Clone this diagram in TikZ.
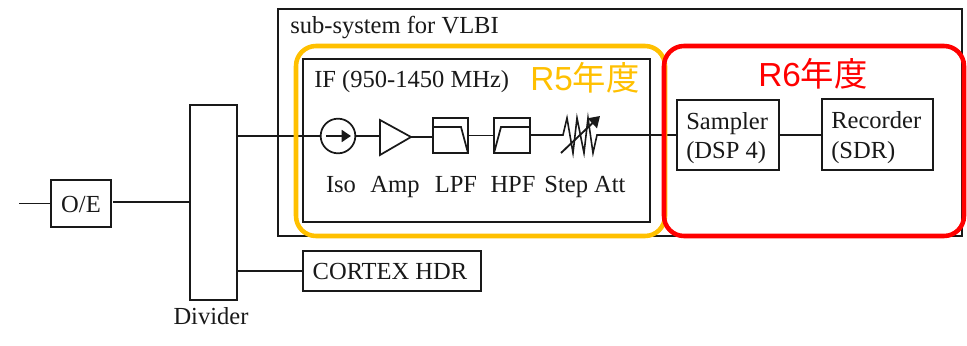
\documentclass[tikz,border=0pt]{standalone}
\usepackage{fontspec}
\setmainfont{Liberation Serif}
\newfontfamily\cjkf{Noto Sans CJK JP}
\newfontfamily\latf{Liberation Sans}
\usetikzlibrary{arrows.meta}
\definecolor{yel}{RGB}{255,192,0}
\tikzset{
 x=0.75pt,y=-0.75pt,
 ln/.style={line width=1.3pt,black!90},
 bx/.style={draw=black!90,line width=1.3pt,fill=white,inner sep=0pt,outer sep=0pt,anchor=north west},
 filt/.style={draw=black!90,line width=1.5pt,inner sep=0pt,outer sep=0pt,anchor=north west,minimum width=26.25pt,minimum height=26.25pt},
 txt/.style={font=\fontsize{18.4}{21.75}\selectfont,text=black!90,inner sep=0pt,anchor=base},
 tag/.style={font=\cjkf\fontsize{25}{28}\selectfont,inner sep=0pt},
 ring/.style={draw=#1,line width=3.4pt,rounded corners=15pt},
}
\begin{document}
\begin{tikzpicture}
\useasboundingbox (0,0) rectangle (967,346);
% outer
\node[bx,minimum width=513pt,minimum height=170.25pt] (sub) at (278,9) {};
\node[txt,anchor=base west] (subl) at (290,34) {sub-system for VLBI};
% left part
\coordinate (in) at (19,203.5);
\node[bx,minimum width=45pt,minimum height=35.25pt] (oe) at (51,180) {};
\node[txt] (oel) at (81,212) {O/E};
\node[bx,minimum width=35.25pt,minimum height=146.25pt] (div) at (190,105) {};
\node[txt] (divl) at (211,324) {Divider};
\node[bx,minimum width=133.5pt,minimum height=30pt] (cortex) at (303,251) {};
\node[txt] (cortexl) at (390,279) {CORTEX HDR};
\draw[ln] (in) -- (oe.west|-in);
\draw[ln] (113,202) coordinate (oer) -- (oer-|div.west);
\draw[ln] (div.east|-cortex) -- (cortex.west);
% IF box
\node[bx,minimum width=260.25pt,minimum height=122.25pt] (if) at (303,59) {};
\node[txt,anchor=base west] (ifl) at (314,88) {IF (950-1450 MHz)};
\node[circle,draw=black!90,line width=1.3pt,minimum size=26pt,inner sep=0pt,outer sep=0pt,fill=white] (iso) at (338,136) {};
\node[filt] (lpf) at (433,118) {};
\node[filt,minimum width=27pt] (hpf) at (494,118) {};
\node[bx,minimum width=76.5pt,minimum height=52.5pt] (sampler) at (677,100) {};
\node[bx,minimum width=83.25pt,minimum height=53.25pt] (recorder) at (822,99) {};
\node[txt,anchor=base west] (samplerl) at (686,129) {Sampler};
\node[txt,anchor=base west] (samplerm) at (686,158) {(DSP 4)};
\node[txt,anchor=base west] (recorderl) at (831,128) {Recorder};
\node[txt,anchor=base west] (recorderm) at (831,158) {(SDR)};
\coordinate (ampa) at (380,120);
\coordinate (ampb) at (380,155);
\coordinate (ampc) at (411,137);
\coordinate (attl) at (560,135);
\coordinate (attr) at (598,135);
\draw[ln] (ampa) -- (ampc) -- (ampb) -- cycle;
% connectors
\draw[ln] (div.east|-iso) -- (iso.west);
\draw[ln] (iso.east) -- (iso.east-|ampa);
\draw[ln] (ampc) -- (ampc-|lpf.west);
\draw[ln] (lpf.east) -- (hpf.west);
\draw[ln] (attl-|hpf.east) -- (attl);
\draw[ln] (attr) -- (attr-|sampler.west);
\draw[ln] (attr-|sampler.east) -- (attr-|recorder.west);
% isolator arrow
\draw[line width=1.3pt,black!90,-{Triangle[length=7pt,width=9pt]}] (326,136) -- (351,136);
% LPF / HPF marks
\draw[line width=1.3pt,black!90] (433,127) -- (461,127) -- (468,153);
\draw[line width=1.3pt,black!90] (494,153) -- (501,127) -- (530,127);
% attenuator
\draw[line width=1.2pt,black!90] (attl) -- (563,135) -- (567,118) -- (573,153) -- (577,118) -- (584,153) -- (588,118) -- (593,153) -- (597,135) -- (attr);
\draw[line width=1.4pt,black!90,-{Triangle[length=8pt,width=10pt]}] (561,153) -- (600,116);
% labels
\node[txt] (isol) at (341,192) {Iso};
\node[txt] (ampl) at (395,192) {Amp};
\node[txt] (lpfl) at (456,192) {LPF};
\node[txt] (hpfl) at (513,192) {HPF};
\node[txt] (attl2) at (585,192) {Step Att};
% rings
\draw[ring=yel] (296,46) rectangle (665,236);
\draw[ring=red] (664,46) rectangle (964,236);
\node[tag,text=yel] (r5) at (585,78) {{\latf R5}年度};
\node[tag,text=red] (r6) at (813,74) {{\latf R6}年度};
\end{tikzpicture}
\end{document}
